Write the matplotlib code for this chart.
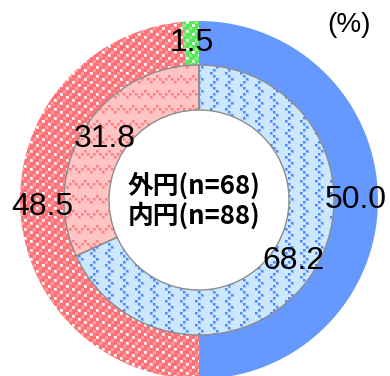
import numpy as np
import matplotlib
matplotlib.use("Agg")
import matplotlib.pyplot as plt

# Outer ring (n=68) and inner ring (n=88) shares, in percent
outer_values = [50.0, 48.5, 1.5]
inner_values = [68.2, 31.8]
center_lines = ["外円(n=68)", "内円(n=88)"]
unit_label = "(%)"

W, H = 390, 376
fig = plt.figure(figsize=(W / 100, H / 100), dpi=100)
ax = fig.add_axes([0, 0, 1, 1])

cx, cy = 199, 176
R_out, R_mid, R_in = 179, 135, 90

yy, xx = np.mgrid[0:H, 0:W]
CELL = 3
gy, gx = yy // CELL, xx // CELL
inner_px = ((xx % CELL) < 2) & ((yy % CELL) < 2)


def solid(rgb):
    img = np.empty((H, W, 3))
    img[:] = np.array(rgb) / 255.0
    return img


def dotted_diagonal(base):
    img = solid(base)
    line = ((gx + gy) % 3) == 0
    dots = (gx % 2) == 0
    halo = line & ~dots
    img[halo] = img[halo] * 0.7 + 0.3
    mask = line & dots
    img[mask] = img[mask] * 0.3 + 0.7
    core = mask & inner_px
    img[core] = 1.0
    return img


ZIG = np.array([0, 1, 2, 1])


def zigzag_columns(base, ink, spacing=5):
    img = solid(base)
    off = ZIG[gy % 4]
    mask = ((gx - off) % spacing) == 0
    soft = mask & ~inner_px
    core = mask & inner_px
    img[soft] = (img[soft] + np.array(ink) / 255.0) / 2
    img[core] = np.array(ink) / 255.0
    return img


def zigzag_rows(base, ink, spacing=5):
    img = solid(base)
    off = ZIG[gx % 4]
    mask = ((gy - off) % spacing) == 0
    soft = mask & ~inner_px
    core = mask & inner_px
    img[soft] = (img[soft] + np.array(ink) / 255.0) / 2
    img[core] = np.array(ink) / 255.0
    return img


outer_textures = [
    solid((102, 153, 255)),
    dotted_diagonal((255, 115, 120)),
    dotted_diagonal((90, 230, 90)),
]
inner_textures = [
    zigzag_columns((204, 232, 255), (80, 135, 255)),
    zigzag_rows((255, 196, 196), (255, 125, 130)),
]

outer_w, _ = ax.pie(outer_values, radius=R_out, center=(cx, cy), startangle=90,
                    counterclock=False, frame=True,
                    wedgeprops=dict(width=R_out - R_mid, linewidth=0, facecolor="none"))
inner_w, _ = ax.pie(inner_values, radius=R_mid, center=(cx, cy), startangle=90,
                    counterclock=False, frame=True,
                    wedgeprops=dict(width=R_mid - R_in, linewidth=0, facecolor="none"))

for wedge, tex in list(zip(outer_w, outer_textures)) + list(zip(inner_w, inner_textures)):
    im = ax.imshow(tex, extent=(0, W, 0, H), origin="upper", interpolation="nearest", zorder=1)
    im.set_clip_path(wedge)

# gray outlines around the inner ring segments
ax.pie(inner_values, radius=R_mid, center=(cx, cy), startangle=90,
       counterclock=False, frame=True,
       wedgeprops=dict(width=R_mid - R_in, fill=False, edgecolor="#8c8c8c",
                       linewidth=1.0, zorder=3))

num_font = dict(family=["Liberation Sans", "DejaVu Sans"], fontsize=23, color="black",
                ha="center", va="center", zorder=5)


def put_labels(wedges, values, r):
    for w, v in zip(wedges, values):
        th = np.deg2rad((w.theta1 + w.theta2) / 2)
        ax.text(cx + r * np.cos(th), cy + r * np.sin(th), f"{v:.1f}", **num_font)


put_labels(outer_w, outer_values, (R_out + R_mid) / 2)
put_labels(inner_w, inner_values, (R_mid + R_in) / 2)

center_font = dict(ha="center", va="center", fontsize=18.5, fontweight="bold",
                   family=["Noto Sans CJK JP", "DejaVu Sans"], zorder=5)
ax.text(cx - 5, cy + 14, center_lines[0], **center_font)
ax.text(cx - 5, cy - 16, center_lines[1], **center_font)

ax.text(349, H - 25, unit_label, ha="center", va="center", fontsize=20,
        family=["Liberation Sans", "DejaVu Sans"], zorder=5)

ax.set_xlim(0, W)
ax.set_ylim(0, H)
ax.set_aspect("auto")
ax.axis("off")

fig.savefig("out.png", dpi=100)
